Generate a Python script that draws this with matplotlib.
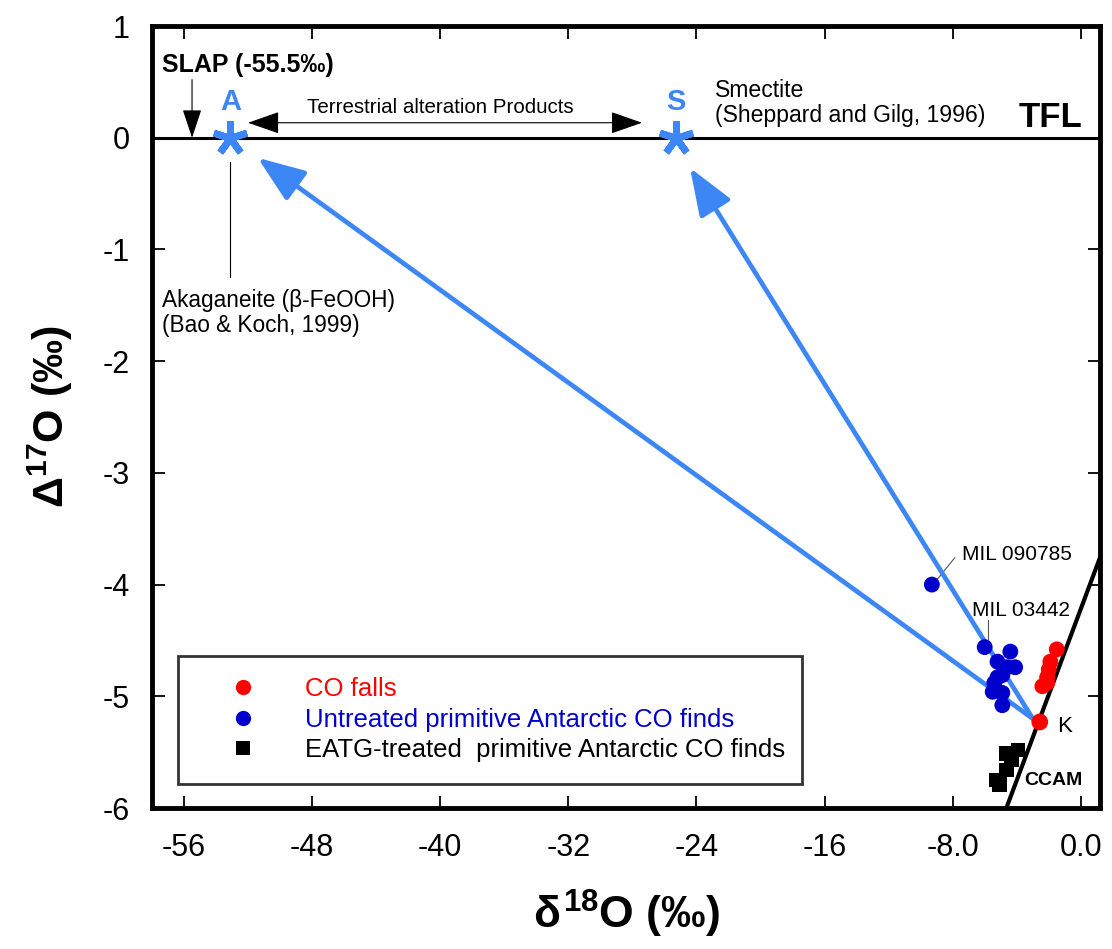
import matplotlib
matplotlib.use('Agg')
import matplotlib.pyplot as plt
from matplotlib.lines import Line2D

plt.rcParams['font.family'] = ['Liberation Sans', 'DejaVu Sans']
plt.rcParams['axes.unicode_minus'] = False
plt.rcParams['mathtext.fontset'] = 'custom'
plt.rcParams['mathtext.rm'] = 'Liberation Sans:bold'
plt.rcParams['mathtext.it'] = 'Liberation Sans:bold'
plt.rcParams['mathtext.bf'] = 'Liberation Sans:bold'

# ---------------- data ----------------
co_falls_x = [-1.5, -1.9, -2.0, -2.1, -2.1, -2.4]
co_falls_y = [-4.58, -4.69, -4.76, -4.83, -4.88, -4.91]
kainsaz_x = [-2.56]
kainsaz_y = [-5.23]

untreated_x = [-9.3, -6.0, -4.4, -5.2, -4.1, -4.6, -5.2, -4.9, -5.4, -5.5, -4.9, -4.9]
untreated_y = [-4.00, -4.56, -4.60, -4.69, -4.74, -4.74, -4.83, -4.81, -4.88, -4.96, -4.97, -5.08]

eatg_x = [-4.64, -3.91, -4.33, -4.64, -5.26, -5.06]
eatg_y = [-5.51, -5.48, -5.57, -5.66, -5.75, -5.79]

ccam_x = [-4.75, 1.3]
ccam_y = [-6.04, -3.72]

alteration_names = ['A', 'S']
alteration_x = [-53.1, -25.3]
alteration_y = [0.0, 0.0]

arrow_start = (-3.0, -5.2)
arrow_tips_x = [-51.4, -24.4]
arrow_tips_y = [-0.18, -0.27]

slap_value = -55.5

xticks = [-56, -48, -40, -32, -24, -16, -8, 0]
xtick_labels = ['-56', '-48', '-40', '-32', '-24', '-16', '-8.0', '0.0']
yticks = [1, 0, -1, -2, -3, -4, -5, -6]
ytick_labels = ['1', '0', '-1', '-2', '-3', '-4', '-5', '-6']

legend_labels = ['CO falls', 'Untreated primitive Antarctic CO finds',
                 'EATG-treated  primitive Antarctic CO finds']

# ---------------- style ----------------
RED = '#FF0000'
DBLUE = '#0000CD'
ABLUE = '#3C87F5'

fig = plt.figure(figsize=(11.12, 9.49), dpi=100)
fig.patch.set_facecolor('white')
ax = fig.add_axes([152 / 1112, 1 - 808 / 949, 948 / 1112, 782 / 949])
ax.set_xlim(-58.0, 1.2)
ax.set_ylim(-6, 1)

for s in ax.spines.values():
    s.set_linewidth(3.5)
ax.tick_params(direction='in', length=9, width=1.3, top=True, right=True,
               labelsize=22)
ax.tick_params(axis='x', pad=18)
ax.tick_params(axis='y', pad=16)
ax.set_xticks(xticks)
ax.set_xticklabels(xtick_labels)
ax.set_yticks(yticks)
ax.set_yticklabels(ytick_labels)

ax.set_xlabel(r'$\delta^{18}$O (‰)', fontsize=32, fontweight='bold', labelpad=18)
ax.set_ylabel(r'$\Delta^{17}$O (‰)', fontsize=31, fontweight='bold', labelpad=20)

# TFL
ax.axhline(0, color='black', lw=2.2, zorder=2)
ax.text(0.1, 0.18, 'TFL', fontsize=25, fontweight='bold', ha='right', va='center')

# CCAM line
ax.plot(ccam_x, ccam_y, color='black', lw=3.0, zorder=4, solid_capstyle='butt')

# blue arrows from Kainsaz to alteration products
for tx, ty in zip(arrow_tips_x, arrow_tips_y):
    ax.annotate('', xy=(tx, ty), xytext=arrow_start,
                arrowprops=dict(arrowstyle='-|>,head_length=1.45,head_width=0.55',
                                color=ABLUE, lw=3.4, mutation_scale=20,
                                shrinkA=0, shrinkB=0), zorder=3)

# asterisks (5-armed)
ax.plot(alteration_x, alteration_y, linestyle='none', marker=(5, 2, 0),
        markersize=25, markeredgewidth=5.0, color=ABLUE, zorder=6)
for name, x in zip(alteration_names, alteration_x):
    ax.text(x, 0.32, name, color=ABLUE, fontsize=21, fontweight='bold',
            ha='center', va='center')

# scatter data
ax.scatter(untreated_x, untreated_y, s=130, color=DBLUE, edgecolors='none', zorder=5)
ax.scatter(co_falls_x, co_falls_y, s=130, color=RED, edgecolors='none', zorder=5)
ax.scatter(kainsaz_x, kainsaz_y, s=145, color=RED, edgecolors='none', zorder=5)
ax.scatter(eatg_x, eatg_y, s=110, marker='s', color='black', edgecolors='none', zorder=5)

# SLAP annotation
ax.text(-57.4, 0.65, 'SLAP (-55.5‰)', fontsize=18, fontweight='bold',
        ha='left', va='center')
ax.annotate('', xy=(slap_value, 0.0), xytext=(slap_value, 0.52),
            arrowprops=dict(arrowstyle='-|>,head_length=0.9,head_width=0.3',
                            color='black', lw=0.8, mutation_scale=20,
                            shrinkA=0, shrinkB=0))

# terrestrial alteration products double arrow
ax.annotate('', xy=(-52.0, 0.134), xytext=(-27.4, 0.134),
            arrowprops=dict(arrowstyle='<|-|>,head_length=1.0,head_width=0.35',
                            color='black', lw=0.8, mutation_scale=20,
                            shrinkA=0, shrinkB=0))
ax.text(-40.0, 0.27, 'Terrestrial alteration Products', fontsize=14.8,
        ha='center', va='center')

# smectite label
ax.text(-22.85, 0.31, 'Smectite\n(Sheppard and Gilg, 1996)', fontsize=16.6,
        ha='left', va='center', linespacing=1.12)

# akaganeite label
ax.plot([alteration_x[0], alteration_x[0]], [-0.22, -1.25], color='black', lw=0.8)
ax.text(-57.4, -1.57, 'Akaganeite (β-FeOOH)\n(Bao & Koch, 1999)', fontsize=16.3,
        ha='left', va='center', linespacing=1.12)

# sample labels
ax.plot([-9.0, -7.87], [-3.96, -3.76], color='#555555', lw=0.8)
ax.text(-7.4, -3.73, 'MIL 090785', fontsize=15, ha='left', va='center')
ax.plot([-5.8, -5.8], [-4.32, -4.49], color='#555555', lw=0.8)
ax.text(-6.8, -4.23, 'MIL 03442', fontsize=15, ha='left', va='center')
ax.text(-1.5, -5.27, 'K', fontsize=16, ha='left', va='center')
ax.text(-3.5, -5.75, 'CCAM', fontsize=14, fontweight='bold', ha='left', va='center')

# legend
handles = [
    Line2D([], [], linestyle='none', marker='o', markersize=11, color=RED, markeredgewidth=0),
    Line2D([], [], linestyle='none', marker='o', markersize=11, color=DBLUE, markeredgewidth=0),
    Line2D([], [], linestyle='none', marker='s', markersize=10, color='black', markeredgewidth=0),
]
leg = ax.legend(handles, legend_labels, loc='upper left',
                bbox_to_anchor=(26 / 948, 152 / 782, 624 / 948, 0), mode='expand',
                borderaxespad=0, fontsize=18.5, frameon=True, fancybox=False,
                edgecolor='black', borderpad=0.82, handlelength=3.4,
                handletextpad=0.72, labelspacing=0.26,
                labelcolor=[RED, DBLUE, 'black'])
leg.get_frame().set_linewidth(2.0)
leg.set_zorder(7)

fig.savefig('out.png', dpi=100, facecolor='white')
